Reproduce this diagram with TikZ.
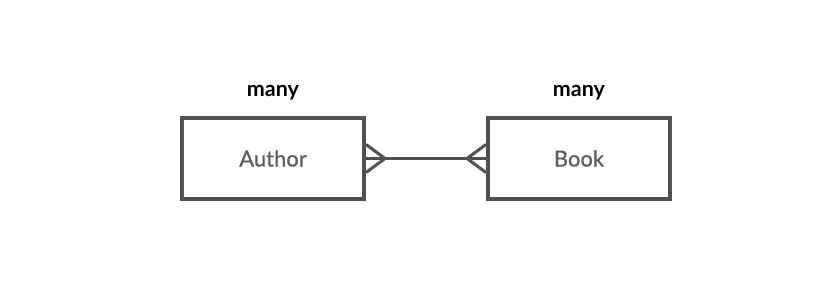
\documentclass[tikz,border=0pt]{standalone}
\usepackage{fontspec}
\setmainfont{Lato}
\newfontfamily\labelfont[FakeBold=0.6]{Lato}
\usepackage{tikz}
\usetikzlibrary{positioning}

\definecolor{boxgray}{HTML}{505050}
\definecolor{textgray}{HTML}{5C5C5C}

\begin{document}
\begin{tikzpicture}[x=1pt, y=1pt, node distance=120pt,
    entity/.style={rectangle, draw=boxgray, line width=4pt, minimum width=182pt,
        minimum height=81pt, font=\labelfont\fontsize{22}{26}\selectfont, text=textgray},
    card/.style={inner sep=0pt, font=\fontsize{21.5}{25}\selectfont\bfseries, text=black},
    link/.style={draw=boxgray, line width=3pt}]

    % page frame
    \useasboundingbox (0,0) rectangle (823,299);

    % Define nodes
    \node[entity] (author) at (273,140.5) {Author};
    \node[entity, right=of author] (book) {Book};

    \node[card, above=16pt of author] (manyA) {many};
    \node[card, above=16pt of book] (manyB) {many};

    % relationship line
    \draw[link] (author) -- (book);

    % crow's feet at both ends
    \draw[link] ([yshift=14pt]author.east) -- ([xshift=19pt]author.east) -- ([yshift=-14pt]author.east);
    \draw[link] ([yshift=14pt]book.west) -- ([xshift=-19pt]book.west) -- ([yshift=-14pt]book.west);

\end{tikzpicture}
\end{document}
